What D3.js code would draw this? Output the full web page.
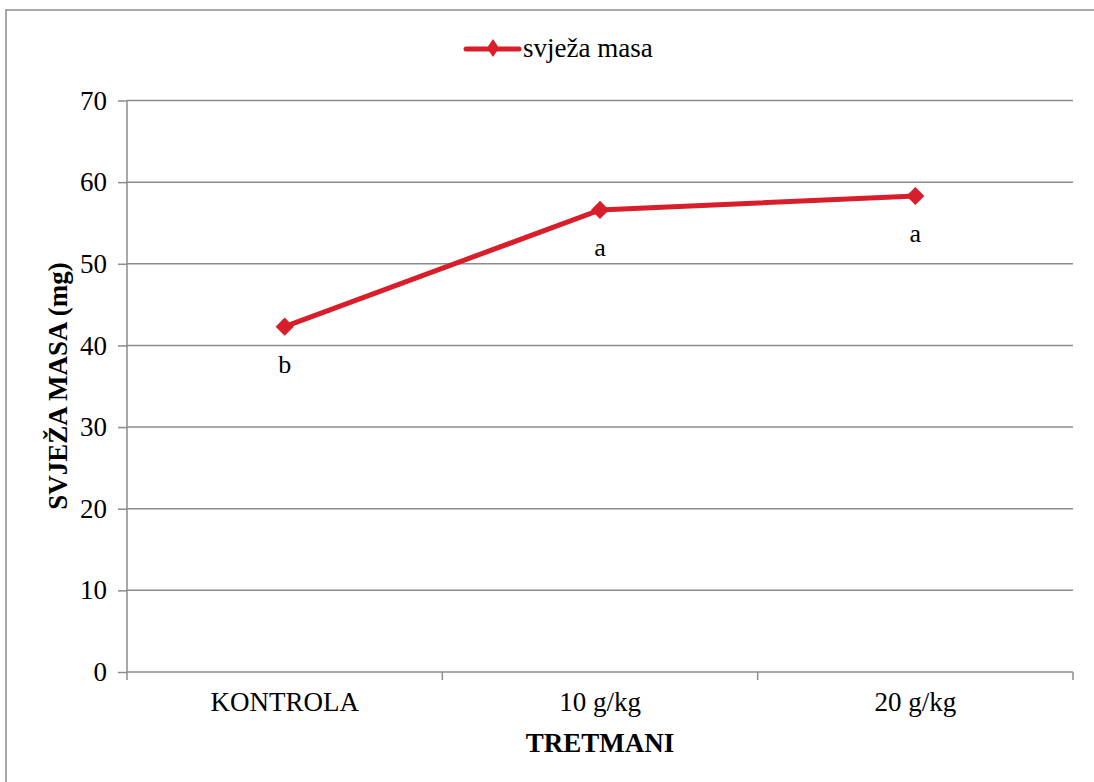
<!DOCTYPE html>
<html><head><meta charset="utf-8">
<script src="https://cdn.jsdelivr.net/npm/d3@7"></script>
<style>body{margin:0;background:#fff}svg{display:block}svg text{font-family:'Liberation Serif','Times New Roman',serif;fill:#000}</style>
</head><body><svg id="c" width="1094" height="782"></svg>
<script>
const categories = ["KONTROLA", "10 g/kg", "20 g/kg"];
const values = [42.3, 56.6, 58.3];
const letters = ["b", "a", "a"];
const yTicks = [0, 10, 20, 30, 40, 50, 60, 70];
const seriesName = "svježa masa";

const svg = d3.select("#c");
const m = {l:127, r:1073, t:100.5, b:672};
const x = d3.scaleBand().domain(categories).range([m.l, m.r]);
const y = d3.scaleLinear().domain([0,70]).range([m.b, m.t]);
const grey = "#8c8c8c", red = "#d81e2a";
const FS = "27px";

svg.append("rect").attr("x",6).attr("y",10).attr("width",1200).attr("height",900)
  .attr("fill","none").attr("stroke",grey).attr("stroke-width",1.5);

svg.append("g").selectAll("line").data(yTicks.filter(d=>d>0)).join("line")
  .attr("x1",m.l).attr("x2",m.r).attr("y1",d=>y(d)).attr("y2",d=>y(d))
  .attr("stroke",grey).attr("stroke-width",1.5);

const ya = svg.append("g").attr("transform",`translate(${m.l},0)`)
  .call(d3.axisLeft(y).tickValues(yTicks).tickSize(9).tickPadding(11));
ya.attr("font-size",null).attr("font-family",null);
ya.select(".domain").attr("stroke",grey).attr("stroke-width",1.5).attr("d",`M0,${m.b}V${m.t}`);
ya.selectAll(".tick line").attr("stroke",grey).attr("stroke-width",1.5);
ya.selectAll(".tick text").style("font-size",FS).attr("fill","#000");

const xa = svg.append("g").attr("transform",`translate(0,${m.b})`)
  .call(d3.axisBottom(x).tickSize(0).tickPadding(20));
xa.attr("font-size",null).attr("font-family",null);
xa.select(".domain").attr("stroke",grey).attr("stroke-width",1.5).attr("d",`M${m.l},0H${m.r}`);
xa.selectAll(".tick text").style("font-size",FS).attr("fill","#000").attr("y",39).attr("dy",null);
const bounds = categories.map(c=>x(c)).concat([m.r]);
xa.append("g").selectAll("line").data(bounds).join("line")
  .attr("x1",d=>d).attr("x2",d=>d).attr("y1",0).attr("y2",8)
  .attr("stroke",grey).attr("stroke-width",1.5);

const cx = c => x(c)+x.bandwidth()/2;
svg.append("path").datum(values)
  .attr("d", d3.line().x((d,i)=>cx(categories[i])).y(d=>y(d)))
  .attr("fill","none").attr("stroke",red).attr("stroke-width",5);
const diamond = d3.symbol().type(d3.symbolDiamond2).size(210);
svg.append("g").selectAll("path").data(values).join("path")
  .attr("d",diamond).attr("transform",(d,i)=>`translate(${cx(categories[i])},${y(d)})`)
  .attr("fill",red);

svg.append("g").selectAll("text").data(values).join("text")
  .attr("x",(d,i)=>cx(categories[i])).attr("y",d=>y(d)+46)
  .attr("text-anchor","middle").style("font-size","26px").text((d,i)=>letters[i]);

svg.append("text").attr("x",(m.l+m.r)/2).attr("y",752).attr("text-anchor","middle")
  .style("font-size",FS).style("font-weight","bold").text("TRETMANI");
svg.append("text").attr("transform",`translate(67,386) rotate(-90)`)
  .attr("text-anchor","middle").style("font-size",FS).style("font-weight","bold").text("SVJEŽA MASA (mg)");

svg.append("line").attr("x1",466).attr("x2",519).attr("y1",49).attr("y2",49)
  .attr("stroke",red).attr("stroke-width",5).attr("stroke-linecap","round");
svg.append("path").attr("d",d3.symbol().type(d3.symbolDiamond2).size(130)).attr("transform","translate(493,48) scale(0.85,1.25)").attr("fill",red);
svg.append("text").attr("x",523).attr("y",57).style("font-size",FS).text(seriesName);
</script></body></html>
